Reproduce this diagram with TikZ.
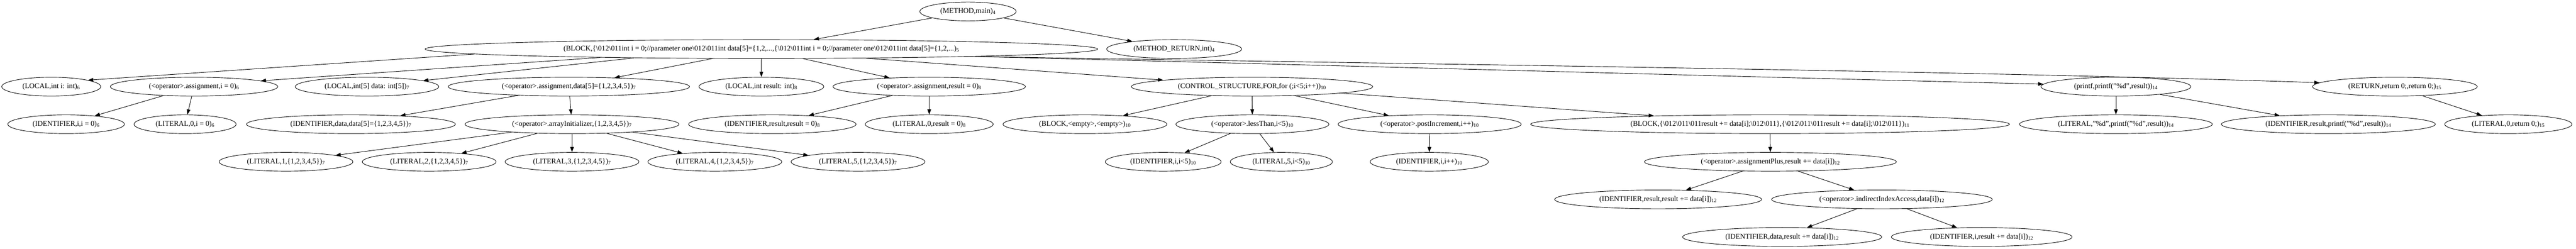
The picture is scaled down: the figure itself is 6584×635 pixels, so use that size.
\documentclass[tikz,border=0pt]{standalone}
\usepackage{fontspec}
\setmainfont{Liberation Serif}
\usetikzlibrary{
	arrows.meta,
	shapes.geometric}
\newcommand{\bsl}{\textbackslash}
\tikzset{
	ast/.style={
		ellipse,
		draw,
		line width=.9pt,
		inner xsep=2pt,
		inner ysep=1pt,
		minimum height=36pt,
		font=\fontsize{14pt}{16pt}\selectfont
	},
	wd/.style={minimum width=#1*0.75pt},
	tree arc/.style={
		draw,
		line width=.9pt,
		-{Triangle[length=10pt, width=7pt]}
	},
}
\begin{document}
\begin{tikzpicture}[x=0.75pt, y=-0.75pt]
	\useasboundingbox (0,0) rectangle (6584,635);
	\node[ast, wd=246] (main) at (2474,29.3) {(METHOD,main)\textsubscript{4}};
	\node[ast, wd=1719] (blk) at (1946,125.3) {(BLOCK,\{\bsl012\bsl011int i = 0;//parameter one\bsl012\bsl011int data[5]=\{1,2,...,\{\bsl012\bsl011int i = 0;//parameter one\bsl012\bsl011int data[5]=\{1,2,...)\textsubscript{5}};
	\node[ast, wd=345] (mret) at (3001,125.3) {(METHOD\_RETURN,int)\textsubscript{4}};
	\node[ast, wd=253] (loci) at (131,221.3) {(LOCAL,int i: int)\textsubscript{6}};
	\node[ast, wd=428] (asgi) at (496,221.3) {(<operator>.assignment,i = 0)\textsubscript{6}};
	\node[ast, wd=367] (locd) at (938,221.3) {(LOCAL,int[5] data: int[5])\textsubscript{7}};
	\node[ast, wd=617] (asgd) at (1454,221.3) {(<operator>.assignment,data[5]=\{1,2,3,4,5\})\textsubscript{7}};
	\node[ast, wd=319] (locr) at (1946,221.3) {(LOCAL,int result: int)\textsubscript{8}};
	\node[ast, wd=492] (asgr) at (2375,221.3) {(<operator>.assignment,result = 0)\textsubscript{8}};
	\node[ast, wd=617] (forl) at (3200,221.3) {(CONTROL\_STRUCTURE,FOR,for (;i<5;i++))\textsubscript{10}};
	\node[ast, wd=383] (prnt) at (5408,221.3) {(printf,printf("\%d",result))\textsubscript{14}};
	\node[ast, wd=421] (ret) at (6121,221.3) {(RETURN,return 0;,return 0;)\textsubscript{15}};
	\node[ast, wd=298] (idi) at (169,317.3) {(IDENTIFIER,i,i = 0)\textsubscript{6}};
	\node[ast, wd=261] (liti) at (473,317.3) {(LITERAL,0,i = 0)\textsubscript{6}};
	\node[ast, wd=534] (idd) at (897,317.3) {(IDENTIFIER,data,data[5]=\{1,2,3,4,5\})\textsubscript{7}};
	\node[ast, wd=547] (arri) at (1462,317.3) {(<operator>.arrayInitializer,\{1,2,3,4,5\})\textsubscript{7}};
	\node[ast, wd=428] (idr) at (1974,317.3) {(IDENTIFIER,result,result = 0)\textsubscript{8}};
	\node[ast, wd=327] (litr) at (2375,317.3) {(LITERAL,0,result = 0)\textsubscript{8}};
	\node[ast, wd=419] (blke) at (2773,317.3) {(BLOCK,<empty>,<empty>)\textsubscript{10}};
	\node[ast, wd=391] (lt) at (3201,317.3) {(<operator>.lessThan,i<5)\textsubscript{10}};
	\node[ast, wd=468] (pinc) at (3654,317.3) {(<operator>.postIncrement,i++)\textsubscript{10}};
	\node[ast, wd=1224] (body) at (4524,317.3) {(BLOCK,\{\bsl012\bsl011\bsl011result += data[i];\bsl012\bsl011\},\{\bsl012\bsl011\bsl011result += data[i];\bsl012\bsl011\})\textsubscript{11}};
	\node[ast, wd=493] (litd) at (5408,317.3) {(LITERAL,"\%d",printf("\%d",result))\textsubscript{14}};
	\node[ast, wd=547] (idrp) at (5951,317.3) {(IDENTIFIER,result,printf("\%d",result))\textsubscript{14}};
	\node[ast, wd=325] (litret) at (6411,317.3) {(LITERAL,0,return 0;)\textsubscript{15}};
	\foreach \k/\x in {1/731,2/1097,3/1462,4/1827,5/2193}
		\node[ast, wd=342] (lit\k) at (\x,413.3) {(LITERAL,\k,\{1,2,3,4,5\})\textsubscript{7}};
	\node[ast, wd=296] (idlt) at (2973,413.3) {(IDENTIFIER,i,i<5)\textsubscript{10}};
	\node[ast, wd=261] (litlt) at (3275,413.3) {(LITERAL,5,i<5)\textsubscript{10}};
	\node[ast, wd=302] (idpp) at (3653,413.3) {(IDENTIFIER,i,i++)\textsubscript{10}};
	\node[ast, wd=644] (aplus) at (4525,413.3) {(<operator>.assignmentPlus,result += data[i])\textsubscript{12}};
	\node[ast, wd=529] (idrpl) at (4238,509.3) {(IDENTIFIER,result,result += data[i])\textsubscript{12}};
	\node[ast, wd=564] (idx) at (4810,509.3) {(<operator>.indirectIndexAccess,data[i])\textsubscript{12}};
	\node[ast, wd=509] (iddx) at (4555,605.3) {(IDENTIFIER,data,result += data[i])\textsubscript{12}};
	\node[ast, wd=462] (idix) at (5065,605.3) {(IDENTIFIER,i,result += data[i])\textsubscript{12}};
	\draw[tree arc] (main) -- (blk);
	\draw[tree arc] (main) -- (mret);
	\draw[tree arc] (blk.181) -- (loci.10);
	\draw[tree arc] (blk.183) -- (asgi.5);
	\draw[tree arc] (blk.184.9) -- (locd);
	\draw[tree arc] (blk.191.2) -- (asgd);
	\draw[tree arc] (blk.south) -- (locr);
	\draw[tree arc] (blk.347.1) -- (asgr);
	\draw[tree arc] (blk.355.5) -- (forl);
	\draw[tree arc] (blk.358.3) .. controls (3450,168) and (4335,193) .. (prnt.178);
	\draw[tree arc] (blk.358.5) .. controls (3500,162) and (5000,180) .. (ret.177);
	\draw[tree arc] (asgi) -- (idi);
	\draw[tree arc] (asgi) -- (liti);
	\draw[tree arc] (asgd) -- (idd);
	\draw[tree arc] (asgd) -- (arri);
	\foreach \k in {1,...,5}
		\draw[tree arc] (arri) -- (lit\k);
	\draw[tree arc] (asgr) -- (idr);
	\draw[tree arc] (asgr) -- (litr);
	\draw[tree arc] (forl) -- (blke);
	\draw[tree arc] (forl) -- (lt);
	\draw[tree arc] (forl) -- (pinc);
	\draw[tree arc] (forl) -- (body);
	\draw[tree arc] (lt) -- (idlt);
	\draw[tree arc] (lt) -- (litlt);
	\draw[tree arc] (pinc) -- (idpp);
	\draw[tree arc] (body) -- (aplus);
	\draw[tree arc] (aplus) -- (idrpl);
	\draw[tree arc] (aplus) -- (idx);
	\draw[tree arc] (idx) -- (iddx);
	\draw[tree arc] (idx) -- (idix);
	\draw[tree arc] (prnt) -- (litd);
	\draw[tree arc] (prnt) -- (idrp);
	\draw[tree arc] (ret) -- (litret);
\end{tikzpicture}
\end{document}
